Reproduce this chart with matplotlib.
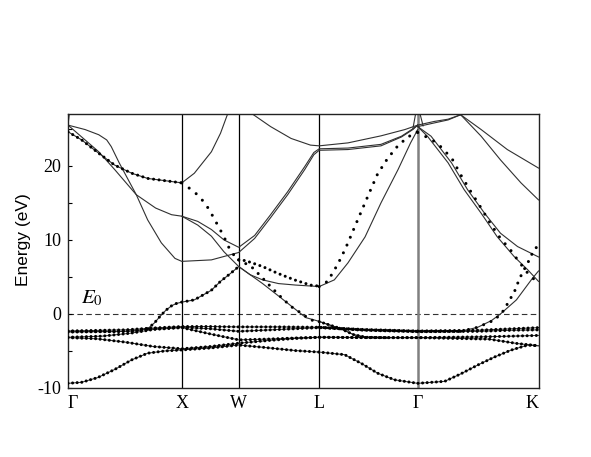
import matplotlib
matplotlib.use('Agg')
import matplotlib.pyplot as plt
from matplotlib.ticker import FixedLocator

plt.rcParams['mathtext.fontset'] = 'stix'

# high-symmetry points
kpts = [0.0, 1.0, 1.5, 2.207, 3.073, 4.134]
klabels = ['Γ', 'X', 'W', 'L', 'Γ', 'K']

# ---------- solid bands (k, E) ----------
u1 = [(0, 25.5), (0.15, 24.9), (0.27, 24.2), (0.34, 23.5), (0.38, 22.6), (0.45, 20.4),
      (0.53, 18.1), (0.60, 16.1), (0.70, 12.7), (0.82, 9.6), (0.94, 7.5), (1.0, 7.1),
      (1.26, 7.3), (1.5, 8.3), (1.64, 10.2), (1.78, 13.0), (1.93, 16.1), (2.08, 19.5),
      (2.16, 21.5), (2.207, 22.1), (2.46, 22.2), (2.75, 22.7), (2.93, 23.9), (3.03, 24.9),
      (3.073, 25.5)]
u2 = [(0, 25.5), (0.12, 23.9), (0.27, 21.9), (0.41, 19.5), (0.60, 16.1), (0.77, 14.3),
      (0.91, 13.4), (1.0, 13.2), (1.14, 12.5), (1.26, 11.4), (1.37, 10.0), (1.5, 9.0),
      (1.64, 10.6), (1.78, 13.4), (1.93, 16.5), (2.08, 19.9), (2.16, 21.8), (2.207, 22.3),
      (2.46, 22.4), (2.75, 22.9), (2.93, 24.0), (3.03, 25.0), (3.073, 25.5)]
u3 = [(1.0, 13.2), (1.14, 12.0), (1.26, 10.5), (1.37, 8.4), (1.5, 6.4), (1.6, 5.3),
      (1.71, 4.6), (1.85, 4.1), (2.0, 3.9), (2.207, 3.7), (2.34, 4.6), (2.46, 6.9),
      (2.61, 10.4), (2.75, 15.0), (2.90, 19.5), (3.01, 23.1), (3.073, 24.9)]
u4 = [(0.70, -2.0), (0.76, -1.2), (0.81, -0.3), (0.86, 0.5), (0.91, 1.1), (0.95, 1.4),
      (1.0, 1.6), (1.11, 1.9), (1.26, 3.2), (1.34, 4.4), (1.43, 5.5), (1.5, 6.4),
      (1.71, 4.1), (1.86, 2.3), (2.0, 0.6), (2.09, -0.5), (2.207, -1.0), (2.30, -1.5),
      (2.39, -1.95), (2.51, -2.8), (2.62, -3.15), (2.8, -3.2)]
u5 = [(1.0, 17.7), (1.11, 19.0), (1.26, 21.9), (1.34, 24.4), (1.40, 26.9), (1.42, 27.8)]
u6 = [(1.60, 27.8), (1.62, 27.0), (1.78, 25.3), (1.96, 23.7), (2.13, 22.8), (2.207, 22.7),
      (2.46, 23.1), (2.75, 24.05), (2.96, 24.9), (3.073, 25.5)]
u7 = [(0, 24.6), (0.12, 23.5), (0.27, 21.7), (0.41, 20.1), (0.56, 19.0), (0.70, 18.3),
      (0.85, 18.0), (1.0, 17.7)]
gk_p = [(3.073, 25.3), (3.16, 23.96), (3.34, 20.4), (3.48, 16.8), (3.63, 13.6), (3.77, 10.45),
        (3.92, 7.75), (4.04, 5.95), (4.134, 4.4)]
gk_q = [(3.073, 25.3), (3.19, 24.0), (3.37, 20.4), (3.51, 16.8), (3.66, 13.6), (3.80, 10.9),
        (3.95, 9.1), (4.134, 7.7)]
gk_arc1 = [(3.073, 25.5), (3.22, 26.0), (3.34, 26.3), (3.45, 26.9)]
gk_arc2 = [(3.073, 25.3), (3.22, 25.8), (3.34, 26.2), (3.45, 26.9)]
gk_r1 = [(3.45, 26.9), (3.63, 24.9), (3.86, 22.2), (4.134, 19.7)]
gk_r2 = [(3.45, 26.9), (3.63, 24.0), (3.80, 20.8), (3.98, 17.7), (4.134, 15.4)]
gk_sp = [(3.45, -2.35), (3.6, -1.8), (3.72, -0.9), (3.80, 0.0), (3.94, 1.9), (4.08, 4.8),
         (4.134, 5.8)]
spike_g1 = [(0.0, 25.5), (0.015, 27.5)]
spike_g2a = [(3.03, 25.0), (3.06, 27.5)]
spike_g2b = [(3.12, 25.4), (3.085, 27.5)]

# ---------- d / s bands (drawn as line + dots) ----------
s_band = [(0, -9.37), (0.12, -9.23), (0.26, -8.6), (0.41, -7.5), (0.56, -6.2), (0.70, -5.3),
          (0.85, -5.0), (1.0, -4.86), (1.25, -4.6), (1.5, -4.2), (1.71, -4.5), (2.0, -4.95),
          (2.207, -5.15), (2.43, -5.5), (2.58, -6.7), (2.72, -8.0), (2.87, -8.9), (3.073, -9.37),
          (3.31, -9.1), (3.45, -8.1), (3.6, -6.9), (3.75, -5.8), (3.89, -4.9), (4.04, -4.2),
          (4.134, -4.3)]
d1 = [(0, -2.3), (0.5, -2.15), (0.75, -1.9), (1.0, -1.7), (1.25, -1.7), (1.5, -1.75),
      (1.85, -1.75), (2.207, -1.8), (2.6, -2.1), (3.073, -2.3), (3.6, -2.2), (4.134, -1.85)]
d2 = [(0, -2.45), (0.5, -2.35), (0.7, -2.05), (1.0, -1.8), (1.25, -2.0), (1.5, -2.35),
      (1.85, -2.1), (2.207, -1.85), (2.6, -2.2), (3.073, -2.4), (3.6, -2.35), (3.9, -2.2),
      (4.134, -2.15)]
d3a = [(0, -2.35), (0.4, -2.4), (0.6, -2.3), (0.70, -2.0)]
d3b = [(2.207, -1.8), (2.6, -2.15), (3.073, -2.35), (3.45, -2.35)]
d4 = [(0, -3.2), (0.25, -3.35), (0.5, -3.8), (0.75, -4.4), (1.0, -4.7), (1.25, -4.4),
      (1.5, -3.95), (1.75, -3.6), (2.0, -3.3), (2.207, -3.15), (2.6, -3.2), (3.073, -3.2),
      (3.6, -3.1), (3.9, -3.0), (4.134, -2.9)]
d5 = [(0, -3.15), (0.3, -3.0), (0.55, -2.6), (0.75, -2.1), (1.0, -1.85), (1.25, -2.7),
      (1.5, -3.5), (1.75, -3.4), (2.0, -3.25), (2.207, -3.15), (2.8, -3.2), (3.073, -3.2),
      (3.7, -3.4), (3.95, -4.0), (4.134, -4.3)]

# ---------- dotted-only bands ----------
dot_gx = [(0, 24.6), (0.12, 23.5), (0.27, 21.7), (0.41, 20.1), (0.56, 19.0), (0.70, 18.3),
          (0.85, 18.0), (1.0, 17.7)]
dot_xw = [(1.0, 17.7), (1.11, 16.5), (1.19, 15.2), (1.24, 14.1), (1.29, 12.7), (1.34, 11.3),
          (1.39, 9.8), (1.43, 8.4), (1.5, 7.3)]
dot_wl_a = [(1.5, 7.3), (1.56, 7.2), (1.71, 6.4), (1.84, 5.5), (1.99, 4.6), (2.13, 3.9),
            (2.207, 3.75)]
dot_wl_b = [(1.5, 7.3), (1.61, 6.4), (1.70, 5.0), (1.78, 3.7), (1.87, 2.3), (1.96, 1.0),
            (2.05, 0.1), (2.13, -0.8), (2.207, -1.04)]
dot_lg_low = [(2.207, -1.04), (2.30, -1.5), (2.39, -1.95), (2.51, -2.8), (2.62, -3.15),
              (2.8, -3.2)]
dot_lg = [(2.207, 3.7), (2.28, 4.4), (2.34, 5.9), (2.40, 7.6), (2.46, 9.6), (2.52, 11.8),
          (2.59, 14.3), (2.66, 16.8), (2.72, 18.9), (2.80, 20.8), (2.88, 22.4), (2.97, 23.7),
          (3.03, 24.3), (3.073, 24.6)]
dot_gk = [(3.073, 24.5), (3.20, 23.5), (3.29, 22.4), (3.38, 20.8), (3.45, 18.8), (3.54, 16.5),
          (3.63, 14.3), (3.72, 12.0), (3.80, 10.2), (3.89, 8.6), (3.96, 7.1), (4.04, 5.5),
          (4.10, 4.6), (4.134, 4.2)]
dot_sp_xw = [(0.70, -2.0), (0.76, -1.2), (0.81, -0.3), (0.86, 0.5), (0.91, 1.1), (0.95, 1.4),
             (1.0, 1.6), (1.11, 1.9), (1.26, 3.2), (1.34, 4.4), (1.43, 5.5), (1.5, 6.4)]
dot_sp_gk = [(3.45, -2.35), (3.6, -1.8), (3.75, -0.8), (3.83, 0.5), (3.88, 1.9), (3.92, 2.9),
             (3.95, 4.1), (3.99, 5.5), (4.04, 6.9), (4.08, 8.2), (4.134, 9.4)]

fig = plt.figure(figsize=(5.91, 4.57), dpi=100)
ax = fig.add_axes([68 / 591, 69 / 457, 470.5 / 591, 274 / 457])

LINE_C = '#303030'


def solid(pts, lw=0.8, c=LINE_C):
    k, e = zip(*pts)
    ax.plot(k, e, color=c, lw=lw, zorder=2)


def dotted(pts, gap_px=5.0, lw=2.2):
    k, e = zip(*pts)
    gap_pt = gap_px * 72 / 100
    ax.plot(k, e, color='black', lw=lw, linestyle=(0, (0.001, gap_pt / lw)),
            dash_capstyle='round', zorder=3)


for c in [u1, u2, u3, u4, u5, u6, u7, gk_p, gk_q, gk_arc1, gk_arc2, gk_r1, gk_r2, gk_sp,
          spike_g1, spike_g2a, spike_g2b]:
    solid(c)

for c in [s_band, d1, d2, d3a, d3b, d4, d5, dot_lg_low]:
    solid(c, lw=0.7)
    dotted(c, 4.6)

dotted(dot_gx, 5.5)
dotted(dot_xw, 9.0)
dotted(dot_wl_a, 5.5)
dotted(dot_wl_b, 8.0)
dotted(dot_lg, 8.5)
dotted(dot_gk, 9.0)
dotted(dot_sp_xw, 5.5)
dotted(dot_sp_gk, 8.0)

# reference lines
ax.axhline(0, color='#333333', lw=0.8, ls=(0, (5, 3)), zorder=1)
for kp in kpts[1:4]:
    ax.axvline(kp, color='black', lw=0.9, zorder=1)
ax.axvline(kpts[4], color='#808080', lw=1.8, zorder=1)

ax.text(0.115, 1.42, r'$E_0$', fontsize=15, ha='left', va='baseline')

ax.set_xlim(kpts[0], kpts[-1])
ax.set_ylim(-10, 27)

ax.set_xticks(kpts)
ax.set_xticklabels(klabels)
for i, lab in enumerate(ax.get_xticklabels()):
    lab.set_fontfamily('Liberation Serif')
    lab.set_fontsize(13)
    if i == 0:
        lab.set_ha('left')
    elif i == len(kpts) - 1:
        lab.set_ha('right')
ax.tick_params(axis='x', length=0, pad=5)

ax.yaxis.set_major_locator(FixedLocator([-10, 0, 10, 20]))
ax.yaxis.set_minor_locator(FixedLocator([-5, 5, 15, 25]))
ax.set_yticklabels(['-10', '0', '10', '20'])
for lab in ax.get_yticklabels():
    lab.set_fontfamily('Liberation Serif')
    lab.set_fontsize(13)
ax.tick_params(axis='y', which='both', direction='in', length=3, width=0.8, pad=5)

for sp in ax.spines.values():
    sp.set_linewidth(1.0)
    sp.set_color('#222222')

fig.text(24 / 591, 1 - 240 / 457, 'Energy (eV)', rotation=90, ha='center', va='center',
         fontsize=12.5, family='Liberation Sans')

fig.savefig('out.png', dpi=100)
